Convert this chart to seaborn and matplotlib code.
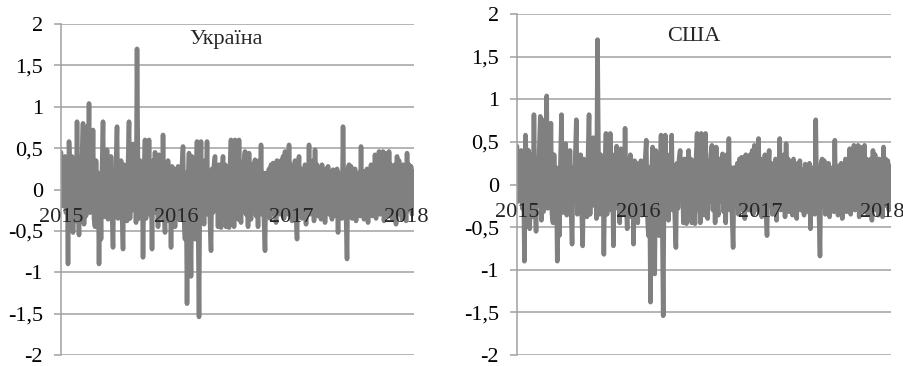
import numpy as np
import pandas as pd
import matplotlib
matplotlib.use("Agg")
import matplotlib.pyplot as plt
import matplotlib.dates as mdates
import seaborn as sns

# values (both panels show the same curve)
ukraine_values = [
    0.45, -0.2, 0.35, -0.1, 0.4, -0.28, 0.3, -0.9, 0.58, 0.2,
    -0.35, 0.4, -0.52, 0.1, 0.35, -0.38, 0.82, -0.2, -0.55, 0.3,
    -0.25, 0.4, 0.8, -0.42, 0.2, -0.32, 0.76, 0.1, 1.04, -0.28,
    0.3, -0.18, 0.72, -0.35, -0.45, 0.35, -0.2, 0.2, -0.9, 0.1,
    -0.6, 0.25, 0.82, -0.33, 0.38, -0.22, 0.48, -0.36, 0.35, -0.2,
    0.4, -0.28, -0.7, 0.2, -0.15, 0.3, 0.76, -0.35, 0.25, -0.2,
    0.35, -0.3, -0.72, 0.3, -0.18, 0.22, -0.38, 0.3, 0.82, -0.35,
    0.28, -0.25, 0.55, -0.2, 0.35, -0.4, 1.7, 0.2, -0.35, 0.35,
    -0.25, 0.32, -0.82, 0.2, 0.6, -0.35, 0.25, -0.22, 0.6, -0.3,
    0.2, -0.72, 0.35, -0.28, 0.45, -0.2, 0.3, -0.45, 0.42, -0.25,
    0.22, -0.34, 0.66, -0.2, -0.52, 0.3, -0.26, 0.35, -0.38, 0.2,
    -0.7, 0.28, -0.22, 0.25, -0.45, 0.18, -0.3, 0.28, -0.36, 0.25,
    -0.2, 0.3, 0.52, -0.35, -0.6, 0.2, -1.38, 0.1, 0.44, -0.3,
    -1.05, 0.4, -0.25, 0.3, -0.6, 0.2, 0.58, -0.3, -1.54, 0.2,
    0.58, -0.25, 0.3, -0.42, 0.35, -0.2, 0.58, -0.3, 0.22, -0.4,
    -0.74, 0.25, -0.28, 0.3, 0.4, -0.2, 0.25, -0.45, 0.3, -0.32,
    -0.46, 0.2, 0.4, -0.25, 0.3, -0.45, 0.28, -0.18, -0.46, 0.3,
    0.6, -0.3, 0.2, -0.45, 0.6, -0.2, 0.32, -0.36, 0.6, -0.25,
    -0.4, 0.28, -0.2, 0.35, 0.46, -0.3, 0.2, -0.45, 0.44, -0.22,
    -0.36, 0.3, -0.2, 0.25, 0.36, -0.32, 0.28, -0.45, 0.35, -0.25,
    0.54, -0.3, 0.2, -0.38, -0.74, 0.2, 0.08, -0.25, 0.25, -0.35,
    0.3, -0.18, 0.32, -0.3, 0.2, -0.4, 0.35, -0.22, 0.28, -0.3,
    0.35, -0.2, 0.4, -0.35, 0.46, -0.2, 0.25, -0.3, 0.54, -0.25,
    0.3, -0.38, 0.22, -0.2, 0.35, -0.3, -0.6, 0.2, 0.4, -0.25,
    0.25, -0.35, 0.15, -0.22, 0.3, -0.42, 0.28, -0.2, 0.54, -0.3,
    0.22, -0.25, 0.35, -0.38, 0.48, -0.2, 0.3, -0.32, 0.25, -0.18,
    -0.36, 0.3, -0.25, 0.2, -0.4, 0.25, -0.22, 0.28, -0.3, 0.18,
    -0.25, -0.36, 0.24, -0.2, 0.15, -0.32, 0.25, -0.52, 0.2, -0.28,
    0.18, -0.35, 0.76, -0.25, 0.2, -0.3, -0.84, 0.25, 0.3, -0.2,
    0.28, -0.35, 0.22, -0.2, 0.25, -0.38, 0.18, -0.25, 0.2, -0.32,
    0.52, -0.28, 0.15, -0.36, 0.22, -0.2, 0.25, -0.4, 0.22, -0.25,
    0.3, -0.32, 0.25, -0.2, 0.42, -0.35, 0.3, -0.22, 0.46, -0.3,
    0.28, -0.2, 0.46, -0.38, 0.44, -0.25, 0.3, -0.32, 0.46, -0.2,
    0.3, -0.35, 0.22, -0.25, 0.3, -0.42, 0.4, -0.2, 0.35, -0.3,
    0.2, -0.36, 0.3, -0.22, 0.25, -0.38, 0.44, -0.25, 0.3, -0.2,
    0.28, -0.3, 0.22, 0.15,
]
usa_values = list(ukraine_values)

titles = ["Україна", "США"]
year_ticks = [2015, 2016, 2017, 2018]
y_ticks = [-2, -1.5, -1, -0.5, 0, 0.5, 1, 1.5, 2]
y_labels = ["-2", "-1,5", "-1", "-0,5", "0", "0,5", "1", "1,5", "2"]

start, end = "2015-01-01", "2018-01-27"

sns.set_style("white")
plt.rcParams["font.family"] = ["Liberation Serif", "DejaVu Serif"]

line_color = "#808080"
grid_color = "#a0a0a0"
fsize = 16

fig = plt.figure(figsize=(9.04, 3.66), dpi=100)
axes = [
    fig.add_axes([0.0675, 0.030, 0.3905, 0.9044]),
    fig.add_axes([0.5719, 0.030, 0.4137, 0.9317]),
]
title_pos = [(0.467, 0.952), (0.473, 0.935)]

for ax, vals, title, tpos in zip(axes, [ukraine_values, usa_values], titles, title_pos):
    df = pd.DataFrame({
        "date": pd.date_range(start, end, periods=len(vals)),
        "value": vals,
    })
    sns.lineplot(data=df, x="date", y="value", ax=ax, color=line_color,
                 linewidth=3.3, zorder=2)
    ax.set_xlim(pd.Timestamp(start), pd.Timestamp(end))
    ax.set_ylim(-2, 2)
    ax.set_yticks(y_ticks)
    ax.set_yticklabels(y_labels, fontsize=fsize)
    ax.set_xticks([])
    ax.set_xlabel("")
    ax.set_ylabel("")
    ax.set_axisbelow(True)
    ax.grid(axis="y", color=grid_color, linewidth=1.1)
    ax.grid(axis="x", visible=False)
    for side in ["top", "right", "bottom"]:
        ax.spines[side].set_visible(False)
    ax.spines["left"].set_color(grid_color)
    ax.spines["left"].set_linewidth(1.1)
    ax.tick_params(axis="y", left=True, length=5, width=1.1, color=grid_color,
                   pad=8, labelcolor="black")
    for yr in year_ticks:
        ax.annotate(str(yr), xy=(mdates.date2num(pd.Timestamp(f"{yr}-01-01")), 0),
                    xytext=(0, -20), textcoords="offset points",
                    ha="center", va="center", fontsize=fsize, zorder=5)
    ax.text(tpos[0], tpos[1], title, transform=ax.transAxes, ha="center",
            va="center", fontsize=fsize, zorder=5)

fig.savefig("out.png", dpi=100)
